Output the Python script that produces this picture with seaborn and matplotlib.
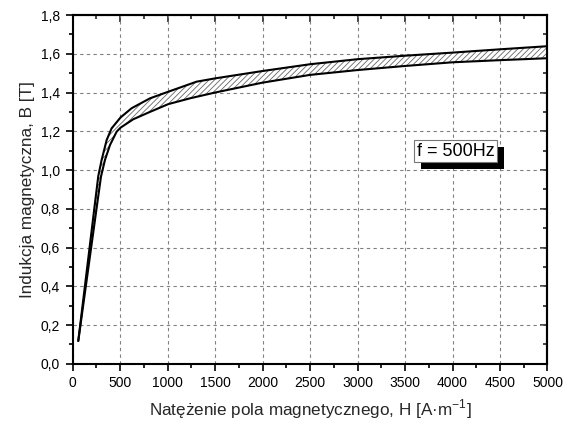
import numpy as np
import pandas as pd
import matplotlib
matplotlib.use("Agg")
import matplotlib.pyplot as plt
import matplotlib.patheffects as pe
import seaborn as sns
from matplotlib.ticker import MultipleLocator, FuncFormatter, NullFormatter

# Data
H_upper = [59, 235, 270, 305, 358, 410, 505, 621, 814, 1006, 1305, 1500, 2000, 2500, 3000, 3500, 4000, 4500, 5000]
B_upper = [0.118, 0.83, 0.97, 1.052, 1.155, 1.215, 1.272, 1.319, 1.370, 1.404, 1.456, 1.473, 1.511, 1.546, 1.572, 1.590, 1.606, 1.623, 1.639]

H_lower = [59, 259, 298, 340, 393, 463, 505, 638, 814, 1006, 1235, 1500, 2000, 2500, 3000, 3500, 4000, 4500, 5000]
B_lower = [0.118, 0.828, 0.966, 1.052, 1.129, 1.198, 1.219, 1.262, 1.30, 1.34, 1.37, 1.40, 1.451, 1.491, 1.516, 1.537, 1.556, 1.567, 1.577]

x_ticks = [0, 500, 1000, 1500, 2000, 2500, 3000, 3500, 4000, 4500, 5000]
y_ticks = [0.0, 0.2, 0.4, 0.6, 0.8, 1.0, 1.2, 1.4, 1.6, 1.8]

label_text = "f = 500Hz"

sns.set_style("ticks")
plt.rcParams['font.family'] = ['Liberation Sans', 'DejaVu Sans']
plt.rcParams['hatch.linewidth'] = 0.6

fig = plt.figure(figsize=(5.7, 4.23), dpi=100)
ax = fig.add_axes([0.1275, 0.140, 0.833, 0.8245])

ax.fill(np.concatenate([H_upper, H_lower[::-1]]),
        np.concatenate([B_upper, B_lower[::-1]]),
        facecolor='white', edgecolor='#666666', linewidth=0, hatch='//////', zorder=2)

df_u = pd.DataFrame({"H": H_upper, "B": B_upper})
df_l = pd.DataFrame({"H": H_lower, "B": B_lower})
sns.lineplot(data=df_u, x="H", y="B", ax=ax, color='black', lw=1.5, sort=False, zorder=3)
sns.lineplot(data=df_l, x="H", y="B", ax=ax, color='black', lw=1.5, sort=False, zorder=3)

ax.set_xlim(0, 5000)
ax.set_ylim(0, 1.8)
ax.set_xticks(x_ticks)
ax.set_yticks(y_ticks)
ax.xaxis.set_minor_locator(MultipleLocator(250))
ax.yaxis.set_minor_locator(MultipleLocator(0.1))
ax.yaxis.set_major_formatter(FuncFormatter(lambda v, p: f"{v:.1f}".replace('.', ',')))

ax.grid(True, which='major', color='#808080', linestyle=(0, (3, 3)), linewidth=0.8)
ax.set_axisbelow(True)

ax.tick_params(which='both', direction='out', labelsize=10, width=1.2, colors='black', pad=4)
ax.tick_params(which='major', length=5)
ax.tick_params(which='minor', length=3)
for s in ax.spines.values():
    s.set_linewidth(1.5)
    s.set_color('black')

# mirrored inward ticks on top and right
top = ax.secondary_xaxis('top')
top.set_xticks(x_ticks)
top.xaxis.set_minor_locator(MultipleLocator(250))
top.xaxis.set_major_formatter(NullFormatter())
top.tick_params(which='both', direction='in', width=1.2)
top.tick_params(which='major', length=5)
top.tick_params(which='minor', length=3)
right = ax.secondary_yaxis('right')
right.set_yticks(y_ticks)
right.yaxis.set_minor_locator(MultipleLocator(0.1))
right.yaxis.set_major_formatter(NullFormatter())
right.tick_params(which='both', direction='in', width=1.2)
right.tick_params(which='major', length=5)
right.tick_params(which='minor', length=3)
for sec in (top, right):
    for s in sec.spines.values():
        s.set_linewidth(1.5)

ax.set_xlabel(r"Natężenie pola magnetycznego, H [A·m$^{\mathregular{-1}}$]", fontsize=12.3, labelpad=5)
ax.set_ylabel("Indukcja magnetyczna, B [T]", fontsize=12.3, labelpad=4)

# shadowed label box
t = ax.text(4035, 1.097, label_text, ha='center', va='center', fontsize=13, color='black', zorder=6,
            bbox=dict(boxstyle='square,pad=0.15', facecolor='white', edgecolor='#777777', linewidth=0.8))
t.get_bbox_patch().set_path_effects([
    pe.SimplePatchShadow(offset=(5, -5), shadow_rgbFace='black', alpha=1.0),
    pe.Normal()])

fig.savefig("out.png", dpi=100)
